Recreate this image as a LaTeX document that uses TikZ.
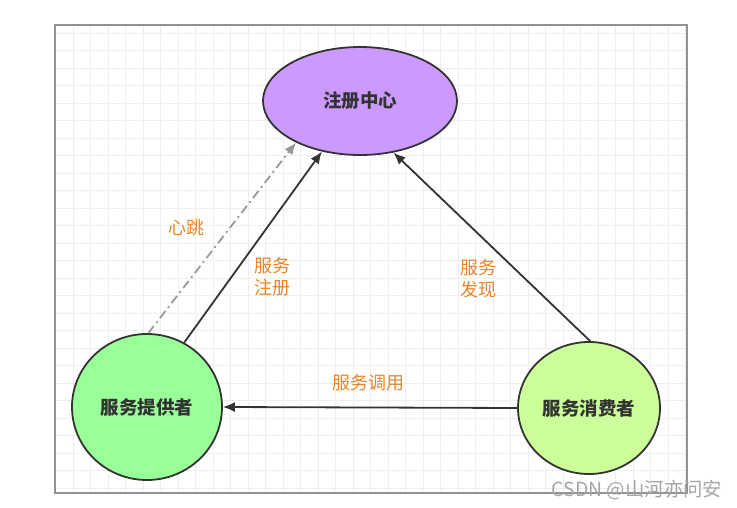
\documentclass[tikz,border=0pt]{standalone}
\usepackage{fontspec}
\setmainfont{Noto Sans CJK SC}
\usetikzlibrary{arrows.meta}
\usetikzlibrary{shapes.geometric}
\definecolor{regfill}{HTML}{CC99FF}
\definecolor{provfill}{HTML}{99FF99}
\definecolor{consfill}{HTML}{CCFF99}
\definecolor{lablcol}{HTML}{E8842A}
\definecolor{linecol}{HTML}{333333}
\definecolor{gridcol}{HTML}{EEEEEE}
\newcommand{\svcnode}[6]{\node[svc, fill=#4, minimum width=#5, minimum height=#6] (#1) at #2 {#3};}
\newcommand{\lablnode}[3]{\node[labl] (#1) at #2 {#3};}
\tikzset{
  svc/.style={shape=ellipse, draw=linecol, line width=1.8pt, inner sep=0pt,
    font=\fontsize{18.5}{20}\selectfont\bfseries, text=black!80},
  labl/.style={align=left, inner sep=0pt, text=lablcol,
    font=\fontsize{18}{22}\selectfont},
  flow/.style={draw=linecol, line width=1.8pt, -{Latex[length=12pt,width=10pt]}},
  beat/.style={draw=gray!80, line width=1.8pt, dash pattern=on 9pt off 4pt on 2pt off 4pt,
    -{Latex[length=12pt,width=10pt]}},
  minorgrid/.style={draw=gridcol, line width=0.6pt},
}
\begin{document}
\begin{tikzpicture}[x=1pt,y=-1pt]
        \useasboundingbox[fill=white] (0,0) rectangle (737,508);
        % grid
        \foreach \gx in {73,90.5,...,686} \draw[minorgrid] (\gx,26) -- (\gx,492);
        \foreach \gy in {33,50.5,...,492} \draw[minorgrid] (56,\gy) -- (686,\gy);
        % frame
        \draw[draw=gray!85, line width=2pt] (55,25) rectangle (687,493);

        % services
        \svcnode{reg}{(360,101)}{注册中心}{regfill}{194pt}{108pt}
        \svcnode{prov}{(147,407)}{服务提供者}{provfill}{150pt}{146pt}
        \svcnode{cons}{(589,408)}{服务消费者}{consfill}{142pt}{132pt}

        % connectors
        \draw[beat] (prov.89) -- (reg.213);
        \draw[flow] (prov.60) -- (reg.233);
        \draw[flow] (cons.89) -- (reg.303);
        \draw[flow] (cons.180) -- (prov.0);

        % labels
        \lablnode{beatlabl}{(186,228)}{心跳}
        \lablnode{reglabl}{(272,277)}{服务\\注册}
        \lablnode{findlabl}{(478,279)}{服务\\发现}
        \lablnode{calllabl}{(368,383)}{服务调用}

        % watermark
        \node[text=gray!70, font=\fontsize{19.4}{20}\selectfont, inner sep=0pt] (mark) at (637,490) {CSDN @山河亦问安};
\end{tikzpicture}
\end{document}
